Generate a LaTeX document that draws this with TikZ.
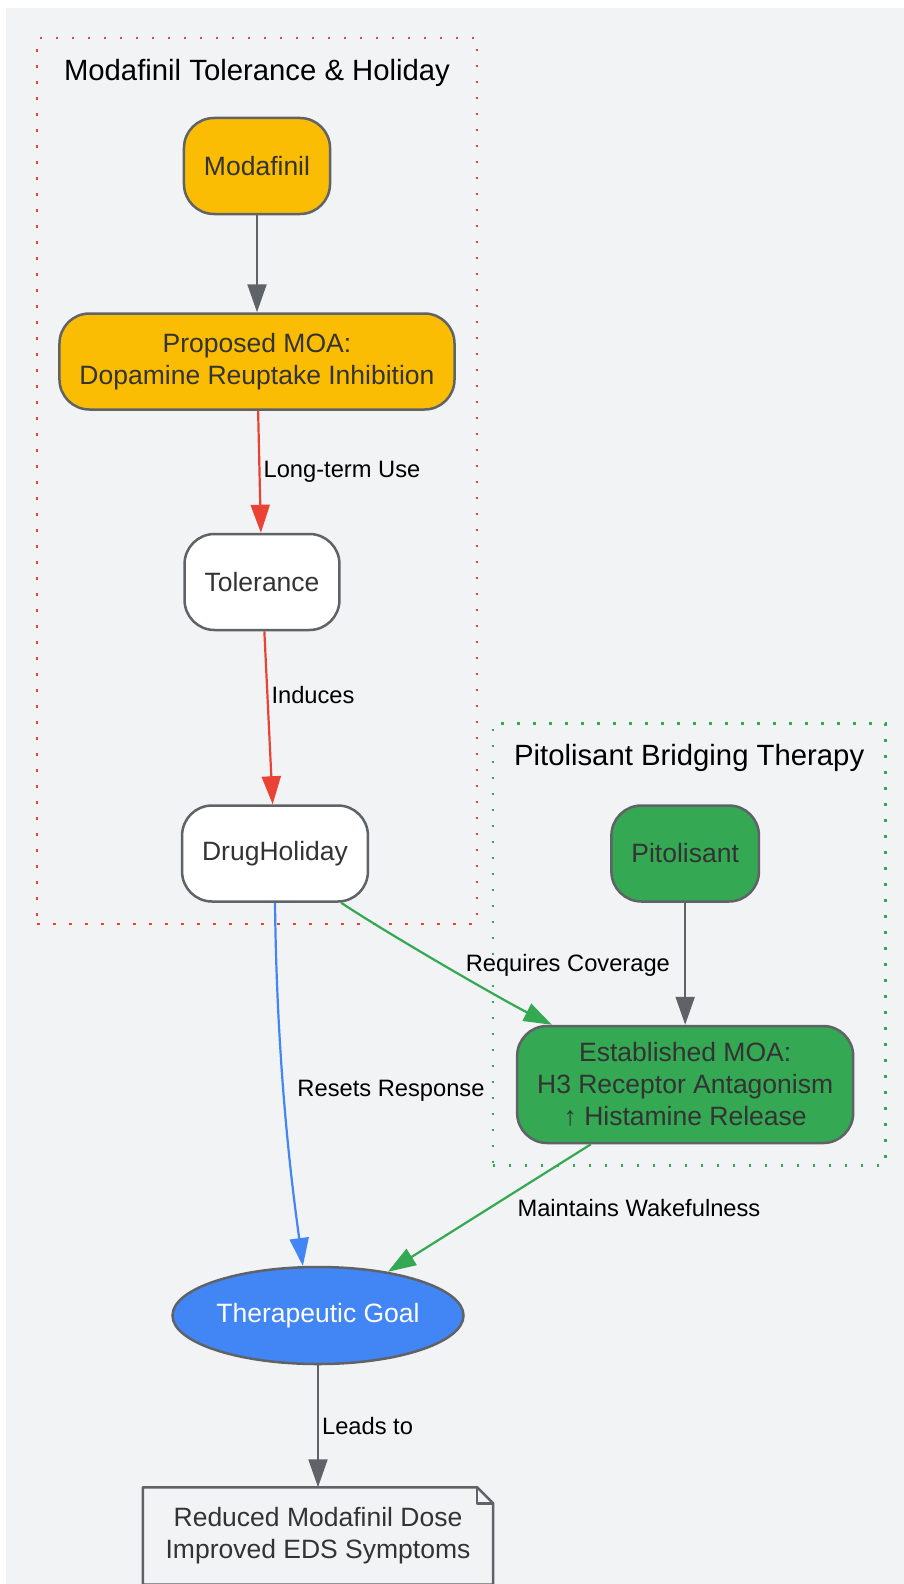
\documentclass[tikz,border=0pt]{standalone}
\usepackage{fontspec}
\setmainfont{Liberation Sans}
\usepackage{xcolor}
\usetikzlibrary{arrows.meta,positioning,shapes,calc,fit}

\definecolor{bggray}{HTML}{F1F3F4}
\definecolor{amber}{HTML}{FBBC04}
\definecolor{gred}{HTML}{EA4335}
\definecolor{ggreen}{HTML}{34A853}
\definecolor{gblue}{HTML}{4285F4}
\definecolor{edgegray}{HTML}{5F6368}
\definecolor{textdark}{HTML}{333333}

\newcommand{\nodefont}{\fontsize{26.5}{32}\selectfont}
\newcommand{\labelfont}{\fontsize{23.7}{28}\selectfont}
\newcommand{\titlefont}{\fontsize{29.3}{34}\selectfont}

\begin{document}
\begin{tikzpicture}[
    box/.style={rectangle, rounded corners=30pt, draw=edgegray, line width=2.5pt, minimum height=96pt, inner xsep=20pt, inner ysep=13pt, font=\nodefont, text=textdark, align=center},
    goalnode/.style={ellipse, draw=edgegray, line width=2.5pt, fill=gblue, minimum width=291pt, minimum height=97pt, inner sep=0pt, font=\nodefont, text=white},
    notebox/.style={edgegray, line width=2.5pt, line join=round},
    cluster/.style={rectangle, line width=2.5pt, dash pattern=on 2.5pt off 13.5pt, inner sep=21pt},
    ctitle/.style={font=\titlefont, text=black, inner sep=0pt},
    arrow/.style={-{Triangle[length=28pt, width=19pt]}, line width=2.2pt},
    elabel/.style={font=\labelfont, text=black, inner sep=3pt}
]
    % Background
    \useasboundingbox (0pt,0pt) rectangle (904pt,-1584pt);
    \fill[bggray] (6pt,-8pt) rectangle (904pt,-1584pt);

    % Modafinil tolerance & holiday
    \node[box, fill=amber] (modafinil) at (257pt,-166pt) {Modafinil};
    \node[box, fill=amber, below=97pt of modafinil] (moa) {Proposed MOA:\\Dopamine Reuptake Inhibition};
    \node[box, fill=white, below=122pt of moa, xshift=5pt] (tolerance) {Tolerance};
    \node[box, fill=white, below=173pt of tolerance, xshift=13pt] (holiday) {DrugHoliday};
    \node[ctitle, above=30pt of modafinil] (modTitle) {Modafinil Tolerance \& Holiday};
    \node[cluster, draw=gred, fit=(modTitle)(moa)(holiday)] (modCluster) {};

    % Pitolisant bridging therapy
    \node[box, fill=ggreen, right=241pt of holiday] (pitolisant) {Pitolisant};
    \node[box, fill=ggreen, minimum height=117pt, below=122pt of pitolisant] (estab) {Established MOA:\\H3 Receptor Antagonism\\↑ Histamine Release};
    \node[ctitle, above=32pt of pitolisant, xshift=4pt] (pitTitle) {Pitolisant Bridging Therapy};
    \node[cluster, draw=ggreen, fit=(pitTitle)(estab)] (pitCluster) {};

    % Goal
    \node[goalnode, below=363pt of holiday, xshift=43pt] (goal) {Therapeutic Goal};

    % Outcome (note)
    \node[rectangle, minimum width=350pt, minimum height=97pt, font=\nodefont, text=textdark, align=center, below=122pt of goal] (result) {Reduced Modafinil Dose\\Improved EDS Symptoms};
    \draw[notebox] (result.south west) -- (result.north west) -- ([xshift=-16pt]result.north east) -- ([yshift=-16pt]result.north east) -- (result.south east) -- cycle;
    \draw[notebox] ([xshift=-16pt]result.north east) |- ([yshift=-16pt]result.north east);

    % Arrows
    \draw[arrow, edgegray] (modafinil) -- (moa);
    \draw[arrow, gred] (moa) -- (tolerance) node[elabel, midway, right] {Long-term Use};
    \draw[arrow, gred] (tolerance) -- (holiday) node[elabel, pos=0.37, right] {Induces};
    \draw[arrow, ggreen] ([xshift=-28pt]holiday.south east) .. controls +(45pt,-30pt) and +(-50pt,25pt) .. ([xshift=36pt]estab.north west) node[elabel, midway, right=17pt] {Requires Coverage};
    \draw[arrow, gblue] (holiday.south) .. controls +(2pt,-180pt) and +(-8pt,60pt) .. (goal.107) node[elabel, pos=0.4, right=10pt] {Resets Response};
    \draw[arrow, edgegray] (pitolisant) -- (estab);
    \draw[arrow, ggreen] ([xshift=75pt]estab.south west) -- (goal.32) node[elabel, midway, right=24pt] {Maintains Wakefulness};
    \draw[arrow, edgegray] (goal) -- (result) node[elabel, midway, right] {Leads to};
\end{tikzpicture}
\end{document}
